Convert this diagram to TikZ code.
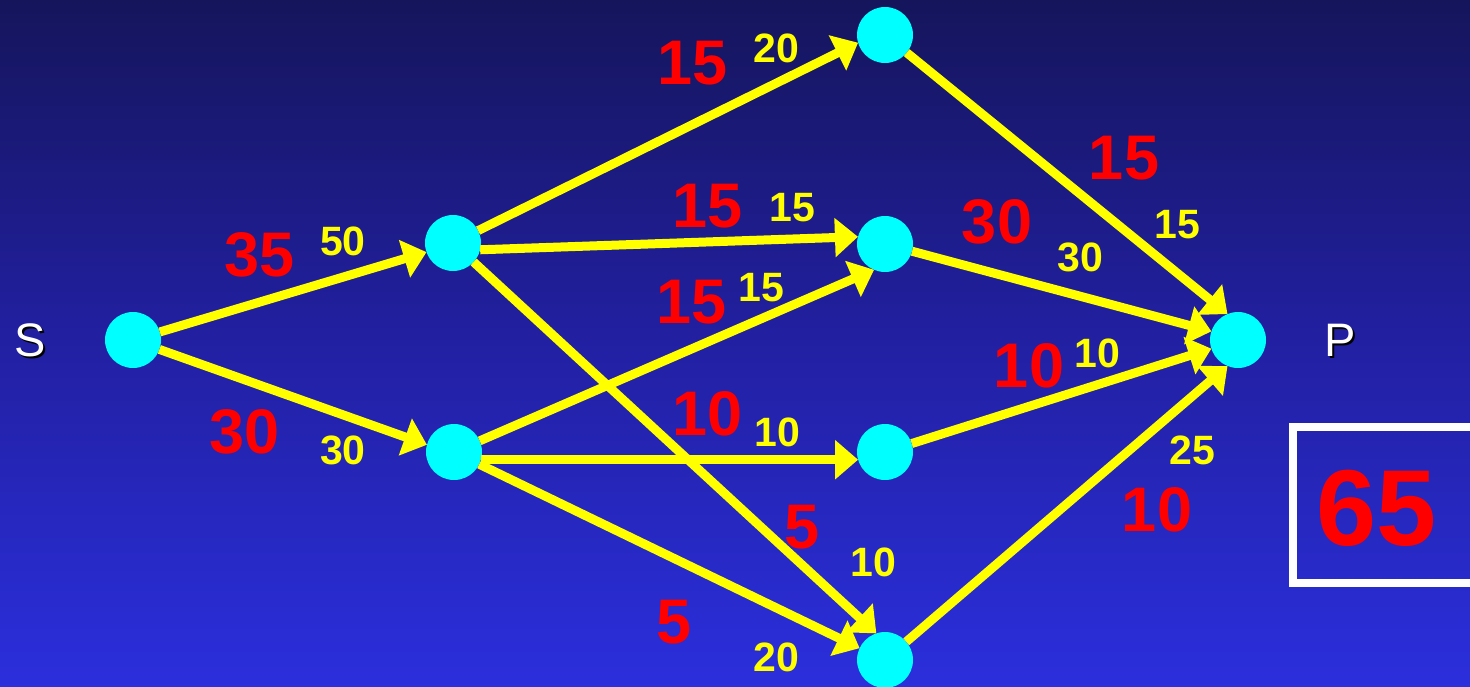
\documentclass[tikz,border=0pt]{standalone}
\usepackage{fontspec}
\setmainfont{Liberation Sans}
\usetikzlibrary{arrows.meta}
\definecolor{bgtop}{HTML}{15155C}
\definecolor{bgmid}{HTML}{2220A2}
\definecolor{bgbot}{HTML}{2B2FDC}
\definecolor{cyanc}{HTML}{00FFFF}
\definecolor{yel}{HTML}{FFFF00}
\definecolor{redc}{HTML}{FF0000}
\begin{document}
\begin{tikzpicture}[x=1pt,y=-1pt,
  vert/.style={circle,fill=cyanc,minimum size=56pt,inner sep=0pt,outer sep=0pt},
  edge/.style={draw=yel,line width=9pt,-{Triangle[length=23pt,width=38pt]}},
  flowlbl/.style={text=redc,font=\bfseries\fontsize{63}{63}\selectfont,inner sep=0pt},
  caplbl/.style={text=yel,font=\bfseries\fontsize{41}{41}\selectfont,inner sep=0pt},
  termlbl/.style={text=white,font=\fontsize{47}{47}\selectfont,inner sep=0pt}]
\useasboundingbox (0,0) rectangle (1470,686);
\clip (0,0) rectangle (1470,686);
\shade[top color=bgtop,bottom color=bgmid] (0,0) rectangle (1470,343);
\shade[top color=bgmid,bottom color=bgbot] (0,343) rectangle (1470,686);
% nodes
\node[vert] (S) at (133,340) {};
\node[vert] (A) at (453,243) {};
\node[vert] (B) at (454,452) {};
\node[vert] (T1) at (885,35) {};
\node[vert] (T2) at (885,244) {};
\node[vert] (T3) at (885,452) {};
\node[vert] (T4) at (885,660) {};
\node[vert] (P) at (1238,340) {};
% terminal labels
\node[termlbl,text=black] (Ssh) at (32,342) {S};
\node[termlbl] (Sl) at (30,340) {S};
\node[termlbl,text=black] (Psh) at (1342,342) {P};
\node[termlbl] (Pl) at (1340,340) {P};
% edges
\draw[edge] (S) -- (A.199);
\draw[edge] (S) -- (B.165);
\draw[edge] (A) -- (T1.196);
\draw[edge] (A.-14) -- (T2.165);
\draw[edge] (A) -- (T4.108);
\draw[edge] (B) -- (T2.247);
\draw[edge] (B.-16.6) -- (T3.196.6);
\draw[edge] (B) -- (T4.155);
\draw[edge] (T1) -- (P.112);
\draw[edge] (T2) -- (P.162);
\draw[edge] (T3) -- (P.198);
\draw[edge] (T4) -- (P.248);
% labels
\node[flowlbl] (f1) at (260,255) {35};
\node[caplbl] (c1) at (343,241) {50};
\node[flowlbl] (f2) at (245,432) {30};
\node[caplbl] (c2) at (343,450) {30};
\node[flowlbl] (f3) at (693,63) {15};
\node[caplbl] (c3) at (776,48) {20};
\node[flowlbl] (f4) at (708,206) {15};
\node[caplbl] (c4) at (792,208) {15};
\node[flowlbl] (f5) at (802,527) {5};
\node[caplbl] (c5) at (873,562) {10};
\node[flowlbl] (f6) at (692,302) {15};
\node[caplbl] (c6) at (761,288) {15};
\node[flowlbl] (f7) at (708,414) {10};
\node[caplbl] (c7) at (777,432) {10};
\node[flowlbl] (f8) at (674,622) {5};
\node[caplbl] (c8) at (776,657) {20};
\node[flowlbl] (f9) at (1124,158) {15};
\node[caplbl] (c9) at (1177,225) {15};
\node[flowlbl] (f10) at (997,222) {30};
\node[caplbl] (c10) at (1080,257) {30};
\node[flowlbl] (f11) at (1029,366) {10};
\node[caplbl] (c11) at (1097,353) {10};
\node[flowlbl] (f12) at (1157,510) {10};
\node[caplbl] (c12) at (1192,450) {25};
% total box
\draw[white,line width=8pt] (1293,427) rectangle (1490,583);
\node[text=redc,font=\bfseries\fontsize{108}{108}\selectfont,inner sep=0pt] (tot) at (1377,508) {65};
\end{tikzpicture}
\end{document}
